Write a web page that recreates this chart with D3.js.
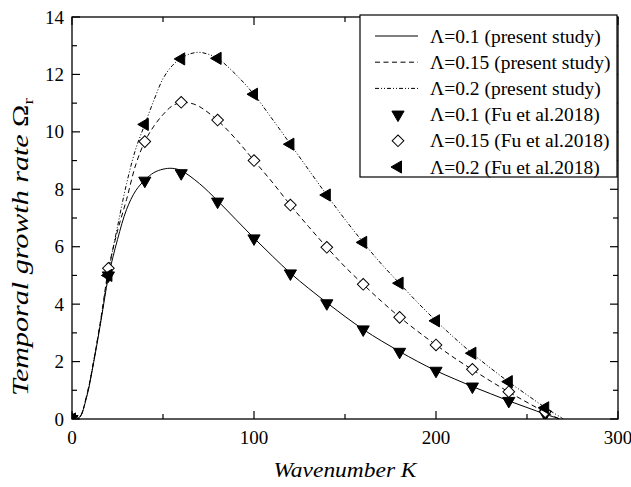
<!DOCTYPE html>
<html>
<head>
<meta charset="utf-8">
<script src="https://cdn.jsdelivr.net/npm/d3@7"></script>
</head>
<body style="margin:0">
<svg id="chart" width="631" height="487"></svg>
<script>
// Temporal growth rate curves (present study)
const curveK01 = [0, 4, 8, 12, 16, 20, 25, 30, 35, 40, 45, 50, 55, 60, 70, 80, 90, 100, 110, 120, 130, 140, 150, 160, 170, 180, 190, 200, 210, 220, 230, 240, 250, 260, 268];
const curveW01 = [0, 0.05, 0.75, 2.0, 3.45, 4.95, 6.25, 7.3, 7.95, 8.32, 8.58, 8.7, 8.73, 8.65, 8.2, 7.6, 6.95, 6.3, 5.68, 5.08, 4.55, 4.05, 3.57, 3.12, 2.72, 2.35, 2.0, 1.68, 1.4, 1.13, 0.88, 0.63, 0.4, 0.17, 0];

const curveK015 = [0, 4, 8, 12, 16, 20, 25, 30, 35, 40, 45, 50, 55, 60, 65, 70, 80, 90, 100, 110, 120, 130, 140, 150, 160, 170, 180, 190, 200, 210, 220, 230, 240, 250, 260, 268];
const curveW015 = [0, 0.05, 0.8, 2.05, 3.55, 5.2, 6.55, 7.65, 8.85, 9.66, 10.2, 10.6, 10.9, 11.02, 11.0, 10.88, 10.4, 9.75, 9.0, 8.25, 7.45, 6.7, 5.98, 5.3, 4.69, 4.1, 3.55, 3.05, 2.58, 2.13, 1.72, 1.32, 0.94, 0.58, 0.24, 0];

const curveK02 = [0, 4, 8, 12, 16, 20, 25, 30, 35, 40, 45, 50, 55, 60, 65, 70, 75, 80, 90, 100, 110, 120, 130, 140, 150, 160, 170, 180, 190, 200, 210, 220, 230, 240, 250, 260, 270];
const curveW02 = [0, 0.05, 0.8, 2.05, 3.5, 5.1, 6.7, 8.2, 9.4, 10.26, 11.1, 11.85, 12.3, 12.56, 12.72, 12.77, 12.7, 12.56, 12.0, 11.3, 10.45, 9.57, 8.68, 7.8, 6.95, 6.15, 5.4, 4.72, 4.05, 3.42, 2.83, 2.28, 1.77, 1.29, 0.84, 0.4, 0];

// Reference points (Fu et al. 2018)
const fuK = [0, 20, 40, 60, 80, 100, 120, 140, 160, 180, 200, 220, 240, 260];
const fuW01 = [0, 5.0, 8.3, 8.56, 7.57, 6.29, 5.07, 4.03, 3.12, 2.34, 1.68, 1.13, 0.63, 0.16];
const fuW015 = [0, 5.25, 9.66, 11.03, 10.41, 9.0, 7.45, 5.98, 4.69, 3.54, 2.58, 1.73, 0.95, 0.25];
const fuW02 = [0, 5.0, 10.26, 12.54, 12.56, 11.31, 9.57, 7.8, 6.15, 4.73, 3.42, 2.29, 1.3, 0.39];

// Axis ticks
const xMajorTicks = [0, 100, 200, 300];
const xMinorTicks = [50, 150, 250];
const yMajorTicks = [0, 2, 4, 6, 8, 10, 12, 14];
const yMinorTicks = [1, 3, 5, 7, 9, 11, 13];

const legendLabels = [
  "Λ=0.1 (present study)",
  "Λ=0.15 (present study)",
  "Λ=0.2 (present study)",
  "Λ=0.1 (Fu et al.2018)",
  "Λ=0.15 (Fu et al.2018)",
  "Λ=0.2 (Fu et al.2018)"
];

const FONT = '"Liberation Serif"';

const svg = d3.select("#chart");
const pLeft = 72, pRight = 618, pTop = 17, pBottom = 419;

const x = d3.scaleLinear().domain([0, 300]).range([pLeft, pRight]);
const y = d3.scaleLinear().domain([0, 14]).range([pBottom, pTop]);

const defs = svg.append("defs");
defs.append("clipPath").attr("id", "plotClip")
  .append("rect").attr("x", pLeft).attr("y", pTop).attr("width", pRight - pLeft).attr("height", pBottom - pTop);

// Line styles
const styles = [
  { dash: null },
  { dash: "5,3.5" },
  { dash: "4,2,1,2,1,2" }
];

const curves = [
  curveK01.map((k, i) => [k, curveW01[i]]),
  curveK015.map((k, i) => [k, curveW015[i]]),
  curveK02.map((k, i) => [k, curveW02[i]])
];

const line = d3.line()
  .x(d => x(d[0]))
  .y(d => y(d[1]))
  .curve(d3.curveCatmullRom.alpha(0.5));

const plot = svg.append("g").attr("clip-path", "url(#plotClip)");

curves.forEach((c, i) => {
  plot.append("path")
    .datum(c)
    .attr("d", line)
    .attr("fill", "none")
    .attr("stroke", "#000")
    .attr("stroke-width", 1)
    .attr("stroke-dasharray", styles[i].dash);
});

// Marker symbols
const triSym = d3.symbol().type(d3.symbolTriangle).size(64);
const diaSym = d3.symbol().type(d3.symbolSquare).size(68);
const markerDefs = [
  { path: triSym(), rotate: 180, fill: "#000" },
  { path: diaSym(), rotate: 45, fill: "#fff" },
  { path: triSym(), rotate: -90, fill: "#000" }
];

const markerSeries = [fuW01, fuW015, fuW02];
markerSeries.forEach((vals, i) => {
  const m = markerDefs[i];
  plot.append("g").selectAll("path")
    .data(fuK.map((k, j) => [k, vals[j]]))
    .join("path")
    .attr("d", m.path)
    .attr("transform", d => `translate(${x(d[0])},${y(d[1])}) rotate(${m.rotate})`)
    .attr("fill", m.fill)
    .attr("stroke", "#000")
    .attr("stroke-width", 1);
});

// Frame
svg.append("rect")
  .attr("x", pLeft).attr("y", pTop)
  .attr("width", pRight - pLeft).attr("height", pBottom - pTop)
  .attr("fill", "none").attr("stroke", "#000").attr("stroke-width", 1.3);

// Inward ticks on all four sides
const tickG = svg.append("g").attr("stroke", "#000").attr("stroke-width", 1.2);
const addXTicks = (vals, len) => {
  vals.forEach(v => {
    tickG.append("line").attr("x1", x(v)).attr("x2", x(v)).attr("y1", pBottom).attr("y2", pBottom - len);
    tickG.append("line").attr("x1", x(v)).attr("x2", x(v)).attr("y1", pTop).attr("y2", pTop + len);
  });
};
const addYTicks = (vals, len) => {
  vals.forEach(v => {
    tickG.append("line").attr("x1", pLeft).attr("x2", pLeft + len).attr("y1", y(v)).attr("y2", y(v));
    tickG.append("line").attr("x1", pRight).attr("x2", pRight - len).attr("y1", y(v)).attr("y2", y(v));
  });
};
addXTicks(xMajorTicks, 8);
addXTicks(xMinorTicks, 5);
addYTicks(yMajorTicks, 8);
addYTicks(yMinorTicks, 5);

// Tick labels
xMajorTicks.forEach(v => {
  svg.append("text")
    .attr("x", x(v))
    .attr("y", 444)
    .attr("text-anchor", "middle")
    .attr("font-size", 19)
    .style("font-family", FONT)
    .text(v);
});

yMajorTicks.forEach(v => {
  svg.append("text")
    .attr("x", 64)
    .attr("y", y(v) + 6.5)
    .attr("text-anchor", "end")
    .attr("font-size", 19)
    .style("font-family", FONT)
    .text(v);
});

// Axis titles
svg.append("text")
  .attr("x", 345)
  .attr("y", 477)
  .attr("text-anchor", "middle")
  .attr("textLength", 143)
  .attr("lengthAdjust", "spacingAndGlyphs")
  .attr("font-size", 21)
  .attr("font-style", "italic")
  .style("font-family", FONT)
  .text("Wavenumber K");

const yTitle = svg.append("text")
  .attr("transform", "translate(28,247) rotate(-90)")
  .attr("text-anchor", "middle")
  .attr("textLength", 298)
  .attr("lengthAdjust", "spacingAndGlyphs")
  .attr("font-size", 23)
  .attr("font-style", "italic")
  .style("font-family", FONT);
yTitle.append("tspan").text("Temporal growth rate ");
yTitle.append("tspan").attr("font-style", "normal").text("Ω");
yTitle.append("tspan").attr("font-style", "normal").attr("font-size", 15).attr("dy", 5).text("r");

// Legend
const lg = svg.append("g");
lg.append("rect")
  .attr("x", 360).attr("y", 15)
  .attr("width", 257).attr("height", 162)
  .attr("fill", "#fff").attr("stroke", "#000").attr("stroke-width", 1.2);

const rowY = i => 36 + i * 26.2;
legendLabels.forEach((lab, i) => {
  const cy = rowY(i);
  if (i < 3) {
    lg.append("line")
      .attr("x1", 375).attr("x2", 418)
      .attr("y1", cy).attr("y2", cy)
      .attr("stroke", "#000").attr("stroke-width", 1)
      .attr("stroke-dasharray", styles[i].dash);
  } else {
    const m = markerDefs[i - 3];
    lg.append("path")
      .attr("d", m.path)
      .attr("transform", `translate(398,${cy}) rotate(${m.rotate})`)
      .attr("fill", m.fill).attr("stroke", "#000").attr("stroke-width", 1);
  }
  lg.append("text")
    .attr("x", 430)
    .attr("y", cy + 6.5)
    .attr("font-size", 19.5)
    .style("font-family", FONT)
    .text(lab);
});
</script>
</body>
</html>
